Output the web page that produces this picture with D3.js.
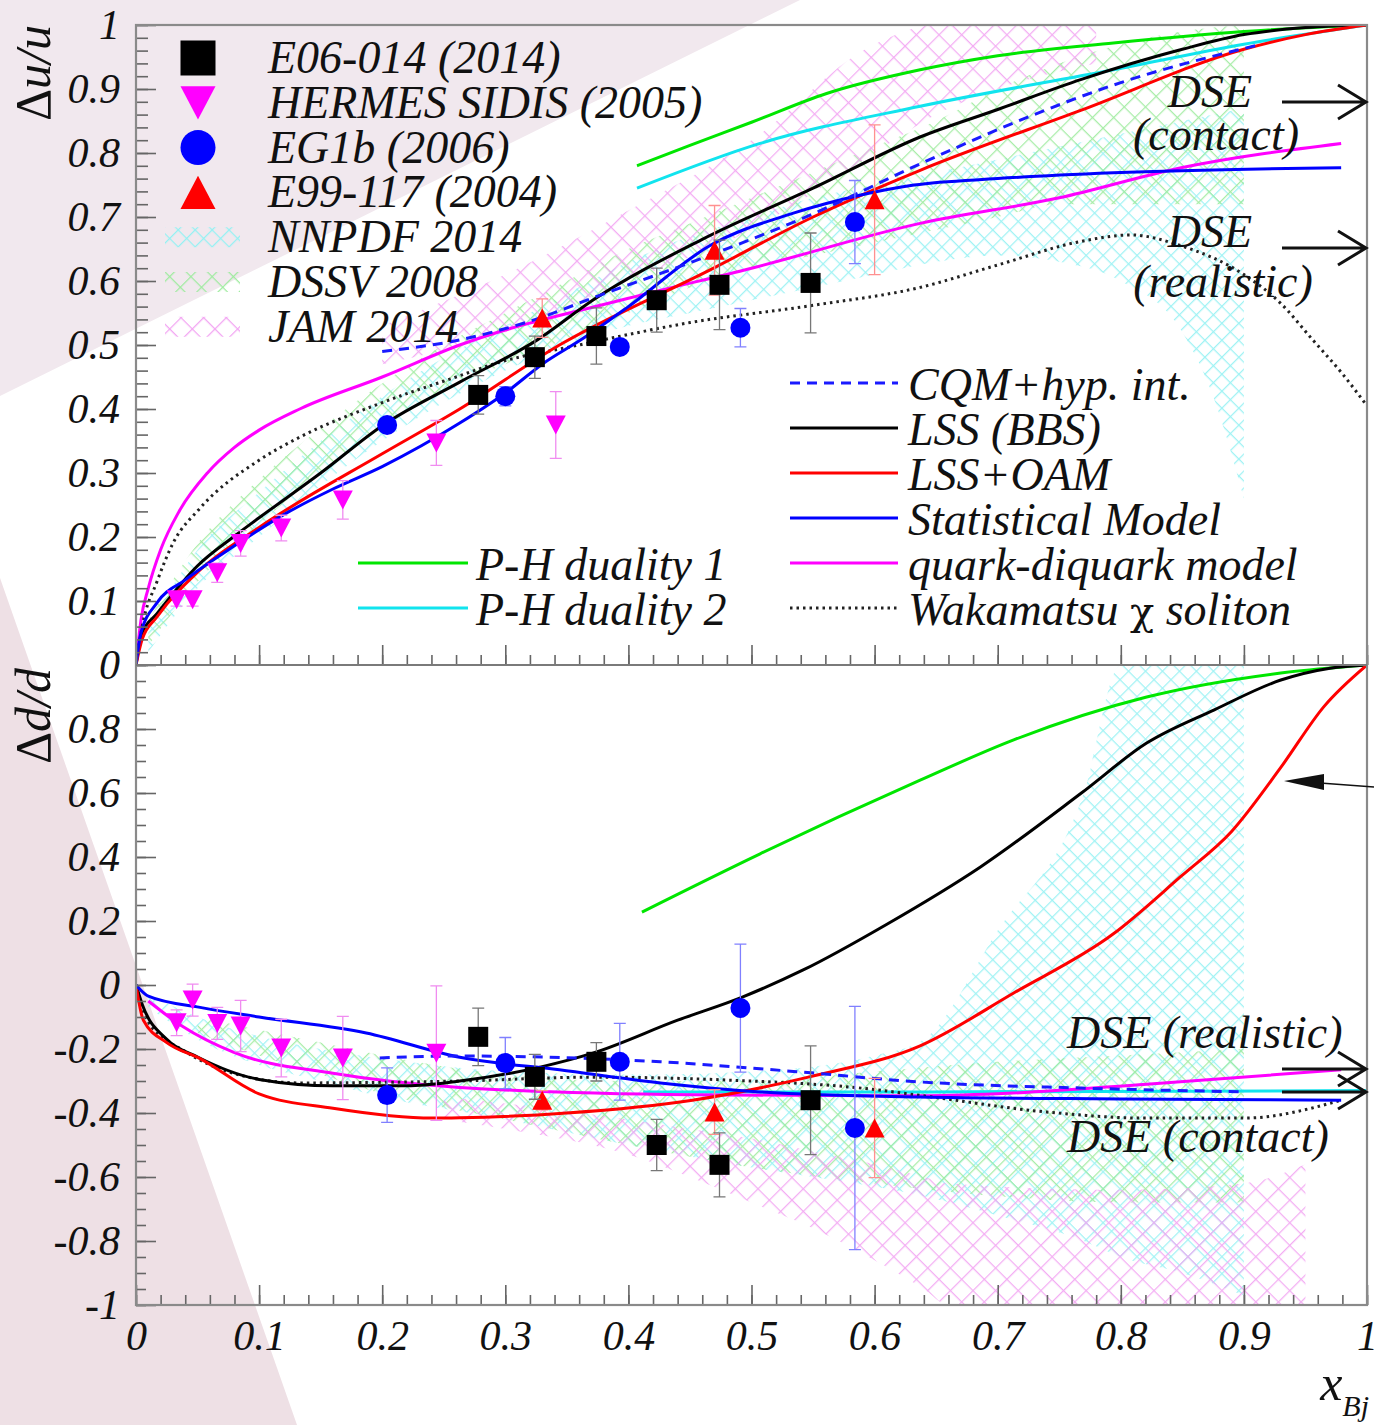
<!DOCTYPE html>
<html>
<head>
<meta charset="utf-8">
<script src="https://cdn.jsdelivr.net/npm/d3@7"></script>
<style>
  body { margin: 0; background: #fff; }
  svg text { font-family: "Liberation Serif", "DejaVu Serif", serif; font-style: italic; fill: #111; }
</style>
</head>
<body>
<svg id="chart" width="1374" height="1425"></svg>
<script>
(function() {
  'use strict';

// ---- tick labels ----
var uTicks = [0, 0.1, 0.2, 0.3, 0.4, 0.5, 0.6, 0.7, 0.8, 0.9, 1];
var dTicks = [-1, -0.8, -0.6, -0.4, -0.2, 0, 0.2, 0.4, 0.6, 0.8];
var xTicks = [0, 0.1, 0.2, 0.3, 0.4, 0.5, 0.6, 0.7, 0.8, 0.9, 1];

// ---- data points (x, value, error) ----
var e06X    = [0.278, 0.324, 0.374, 0.423, 0.474, 0.548];
var e06U    = [0.422, 0.481, 0.514, 0.570, 0.594, 0.597];
var e06UErr = [0.03, 0.033, 0.044, 0.05, 0.07, 0.078];
var e06D    = [-0.162, -0.287, -0.24, -0.5, -0.562, -0.36];
var e06DErr = [0.09, 0.07, 0.06, 0.08, 0.1, 0.17];

var hermUX  = [0.033, 0.046, 0.066, 0.085, 0.118, 0.168, 0.244, 0.341];
var hermU   = [0.102, 0.102, 0.144, 0.19, 0.214, 0.258, 0.347, 0.375];
var hermUErr= [0.01, 0.01, 0.015, 0.02, 0.02, 0.03, 0.035, 0.052];
var hermDX  = [0.033, 0.046, 0.066, 0.085, 0.118, 0.168, 0.244];
var hermD   = [-0.118, -0.047, -0.12, -0.128, -0.197, -0.228, -0.213];
var hermDErr= [0.04, 0.05, 0.05, 0.08, 0.09, 0.13, 0.21];

var eg1X    = [0.204, 0.3, 0.393, 0.491, 0.584];
var eg1U    = [0.375, 0.42, 0.497, 0.527, 0.692];
var eg1UErr = [0.01, 0.015, 0.01, 0.03, 0.065];
var eg1D    = [-0.344, -0.244, -0.24, -0.072, -0.447];
var eg1DErr = [0.085, 0.08, 0.12, 0.2, 0.38];

var e99X    = [0.33, 0.47, 0.6];
var e99U    = [0.542, 0.648, 0.727];
var e99UErr = [0.03, 0.07, 0.117];
var e99D    = [-0.36, -0.397, -0.447];
var e99DErr = [0.03, 0.07, 0.155];

// ---- model curves, Δu/u ----
var uLSS  = [[0,0],[0.005,0.05],[0.017,0.08],[0.05,0.155],[0.079,0.2],[0.1,0.23],[0.15,0.3],[0.2,0.374],[0.263,0.442],[0.326,0.508],[0.371,0.57],[0.46,0.665],[0.55,0.745],[0.637,0.825],[0.7,0.868],[0.768,0.915],[0.85,0.962],[0.9,0.985],[0.95,0.996],[1,1]];
var uOAM  = [[0,0],[0.005,0.04],[0.017,0.075],[0.05,0.145],[0.1,0.215],[0.2,0.33],[0.263,0.4],[0.344,0.5],[0.466,0.617],[0.55,0.7],[0.637,0.773],[0.768,0.867],[0.9,0.962],[0.95,0.985],[1,1]];
var uStat = [[0,0],[0.004,0.05],[0.017,0.097],[0.04,0.133],[0.079,0.185],[0.12,0.235],[0.16,0.275],[0.2,0.31],[0.263,0.378],[0.3,0.425],[0.33,0.47],[0.363,0.51],[0.4,0.56],[0.466,0.655],[0.534,0.706],[0.588,0.734],[0.632,0.75],[0.7,0.76],[0.794,0.769],[0.979,0.777]];
var uCQM  = [[0.2,0.49],[0.263,0.508],[0.318,0.536],[0.38,0.58],[0.452,0.63],[0.55,0.705],[0.637,0.783],[0.713,0.847],[0.8,0.91],[0.91,0.968]];
var uQD   = [[0,0],[0.004,0.07],[0.01,0.12],[0.02,0.18],[0.035,0.24],[0.058,0.3],[0.08,0.34],[0.1,0.367],[0.133,0.4],[0.2,0.45],[0.263,0.5],[0.4,0.573],[0.5,0.62],[0.637,0.69],[0.75,0.73],[0.849,0.777],[0.979,0.815]];
var uWak  = [[0,0],[0.005,0.06],[0.017,0.13],[0.03,0.19],[0.052,0.245],[0.1,0.32],[0.133,0.356],[0.2,0.41],[0.263,0.452],[0.29,0.47],[0.36,0.5],[0.45,0.535],[0.55,0.562],[0.637,0.59],[0.7,0.625],[0.768,0.662],[0.808,0.672],[0.849,0.655],[0.9,0.61],[0.93,0.565],[0.955,0.51],[0.98,0.455],[1.0,0.405]];
var uPH1  = [[0.407,0.78],[0.45,0.812],[0.5,0.848],[0.561,0.893],[0.637,0.93],[0.7,0.952],[0.794,0.972],[0.9,0.99],[1,1]];
var uPH2  = [[0.407,0.745],[0.507,0.815],[0.637,0.873],[0.794,0.93],[0.9,0.97],[1,1]];

// ---- model curves, Δd/d ----
var dLSS  = [[0,0],[0.005,-0.06],[0.025,-0.17],[0.05,-0.225],[0.1,-0.295],[0.16,-0.315],[0.22,-0.315],[0.263,-0.3],[0.33,-0.255],[0.371,-0.213],[0.44,-0.11],[0.493,-0.037],[0.542,0.047],[0.61,0.19],[0.686,0.369],[0.768,0.6],[0.821,0.756],[0.876,0.86],[0.93,0.953],[0.97,0.99],[1,1]];
var dOAM  = [[0,0],[0.006,-0.11],[0.025,-0.18],[0.052,-0.23],[0.1,-0.34],[0.16,-0.385],[0.241,-0.416],[0.263,-0.415],[0.35,-0.4],[0.452,-0.36],[0.547,-0.287],[0.637,-0.19],[0.713,-0.025],[0.794,0.16],[0.849,0.34],[0.89,0.48],[0.93,0.68],[0.965,0.87],[1,1]];
var dStat = [[0,0],[0.01,-0.035],[0.052,-0.07],[0.1,-0.1],[0.187,-0.15],[0.263,-0.226],[0.344,-0.265],[0.426,-0.306],[0.507,-0.334],[0.637,-0.35],[0.8,-0.356],[0.979,-0.36]];
var dCQM  = [[0.198,-0.228],[0.263,-0.222],[0.426,-0.24],[0.534,-0.27],[0.637,-0.303],[0.768,-0.322],[0.9,-0.334]];
var dQD   = [[0.01,-0.05],[0.038,-0.13],[0.079,-0.21],[0.16,-0.276],[0.263,-0.32],[0.452,-0.343],[0.637,-0.346],[0.7,-0.34],[0.821,-0.31],[0.979,-0.265]];
var dWak  = [[0,0],[0.009,-0.11],[0.041,-0.21],[0.079,-0.276],[0.133,-0.306],[0.263,-0.3],[0.371,-0.288],[0.48,-0.297],[0.596,-0.325],[0.637,-0.345],[0.74,-0.397],[0.821,-0.416],[0.9,-0.416],[0.979,-0.36]];
var dPH1  = [[0.411,0.228],[0.507,0.41],[0.637,0.64],[0.713,0.766],[0.821,0.9],[0.93,0.975],[1,1]];
var dPH2  = [[0.412,-0.334],[0.637,-0.334],[1,-0.33]];

// ---- PDF fit bands (x, low, high) ----
var nnUX  = [0.01, 0.05, 0.1, 0.15, 0.2, 0.25, 0.3, 0.35, 0.4, 0.45, 0.5, 0.55, 0.6, 0.65, 0.7, 0.75, 0.8, 0.85, 0.875, 0.9];
var nnULo = [0.02, 0.12, 0.2, 0.28, 0.35, 0.41, 0.46, 0.5, 0.53, 0.55, 0.57, 0.59, 0.61, 0.63, 0.64, 0.63, 0.6, 0.52, 0.42, 0.26];
var nnUHi = [0.06, 0.18, 0.27, 0.35, 0.42, 0.48, 0.53, 0.58, 0.63, 0.67, 0.7, 0.73, 0.75, 0.77, 0.79, 0.81, 0.83, 0.85, 0.86, 0.87];
var dsUX  = [0.01, 0.05, 0.1, 0.15, 0.2, 0.25, 0.3, 0.35, 0.4, 0.45, 0.5, 0.55, 0.6, 0.65, 0.7, 0.75, 0.8, 0.85, 0.9];
var dsULo = [0.03, 0.13, 0.22, 0.3, 0.37, 0.43, 0.47, 0.51, 0.55, 0.59, 0.62, 0.64, 0.66, 0.68, 0.7, 0.72, 0.72, 0.72, 0.72];
var dsUHi = [0.07, 0.19, 0.29, 0.37, 0.44, 0.5, 0.55, 0.6, 0.65, 0.69, 0.73, 0.77, 0.81, 0.85, 0.9, 0.94, 0.97, 0.99, 1.0];
var jamUX = [0.2, 0.3, 0.4, 0.5, 0.6, 0.65, 0.7, 0.78];
var jamULo= [0.47, 0.52, 0.6, 0.68, 0.8, 0.86, 0.9, 0.94];
var jamUHi= [0.53, 0.61, 0.71, 0.82, 0.97, 1.0, 1.0, 1.0];

var nnDX  = [0.01, 0.05, 0.1, 0.15, 0.2, 0.3, 0.4, 0.5, 0.6, 0.64, 0.7, 0.77, 0.8, 0.85, 0.9];
var nnDLo = [-0.07, -0.17, -0.25, -0.3, -0.35, -0.42, -0.5, -0.57, -0.63, -0.66, -0.72, -0.8, -0.85, -0.9, -0.97];
var nnDHi = [-0.03, -0.1, -0.16, -0.2, -0.23, -0.27, -0.28, -0.27, -0.22, -0.17, 0.17, 0.6, 1.0, 1.0, 1.0];
var dsDX  = [0.05, 0.1, 0.15, 0.2, 0.3, 0.4, 0.5, 0.6, 0.7, 0.8, 0.9];
var dsDLo = [-0.15, -0.22, -0.28, -0.34, -0.42, -0.5, -0.57, -0.62, -0.66, -0.68, -0.68];
var dsDHi = [-0.1, -0.14, -0.18, -0.22, -0.28, -0.3, -0.3, -0.27, -0.24, -0.22, -0.2];
var jamDX = [0.25, 0.3, 0.4, 0.45, 0.5, 0.55, 0.6, 0.64, 0.66, 0.8, 0.9, 0.95];
var jamDLo= [-0.42, -0.45, -0.53, -0.6, -0.68, -0.76, -0.86, -0.95, -1.0, -1.0, -1.0, -1.0];
var jamDHi= [-0.35, -0.37, -0.42, -0.45, -0.48, -0.52, -0.56, -0.6, -0.62, -0.64, -0.62, -0.56];

var svg = d3.select("#chart");
var defs = svg.append("defs");

var x  = d3.scaleLinear().domain([0, 1]).range([136, 1367]);
var yU = d3.scaleLinear().domain([0, 1]).range([665, 25]);
var yD = d3.scaleLinear().domain([-1, 1]).range([1305, 665]);

// background decoration
svg.append("path").attr("d", "M0,0L800,0L0,396Z").attr("fill", "#f1e8ee");
svg.append("path").attr("d", "M0,578L297,1425L0,1425Z").attr("fill", "#eee0e5");

// clips
defs.append("clipPath").attr("id", "clipU").append("rect")
  .attr("x", 136).attr("y", 25).attr("width", 1231).attr("height", 640);
defs.append("clipPath").attr("id", "clipD").append("rect")
  .attr("x", 136).attr("y", 665).attr("width", 1231).attr("height", 640);

// cross-hatch patterns
function hatch(id, color, size) {
  var p = defs.append("pattern").attr("id", id)
    .attr("patternUnits", "userSpaceOnUse")
    .attr("width", size).attr("height", size)
    .attr("patternTransform", "rotate(45)");
  p.append("path").attr("d", "M0,0.5H" + size + "M0.5,0V" + size)
    .attr("stroke", color).attr("stroke-width", 1.5).attr("fill", "none");
}
hatch("hNN", "#95f1f3", 12);
hatch("hDS", "#9eeb9e", 15);
hatch("hJAM", "#f2a4f2", 16);

function band(g, xs, lo, hi, y, fill, op) {
  var rows = xs.map(function(d, i) { return {x: d, lo: lo[i], hi: hi[i]}; });
  g.append("path").datum(rows)
    .attr("fill", "url(#" + fill + ")").attr("opacity", op)
    .attr("d", d3.area().x(function(d) { return x(d.x); })
      .y0(function(d) { return y(d.lo); }).y1(function(d) { return y(d.hi); })
      .curve(d3.curveMonotoneX));
}

var gU = svg.append("g").attr("clip-path", "url(#clipU)");
var gD = svg.append("g").attr("clip-path", "url(#clipD)");

band(gU, nnUX, nnULo, nnUHi, yU, "hNN", 0.9);
band(gU, dsUX, dsULo, dsUHi, yU, "hDS", 0.9);
band(gU, jamUX, jamULo, jamUHi, yU, "hJAM", 0.9);
band(gD, nnDX, nnDLo, nnDHi, yD, "hNN", 0.9);
band(gD, dsDX, dsDLo, dsDHi, yD, "hDS", 0.9);
band(gD, jamDX, jamDLo, jamDHi, yD, "hJAM", 0.9);

function curve(g, pts, y, color, dash) {
  g.append("path").datum(pts)
    .attr("fill", "none").attr("stroke", color).attr("stroke-width", 3)
    .attr("stroke-dasharray", dash || null)
    .attr("d", d3.line().x(function(d) { return x(d[0]); })
      .y(function(d) { return y(d[1]); }).curve(d3.curveMonotoneX));
}

var DOT = "2.5,4", DASH = "10,7";
[[uPH1, "#00e600"], [uPH2, "#11e4ee"], [uQD, "#ff00ff"], [uWak, "#222", DOT],
 [uLSS, "#000"], [uOAM, "#ff0000"], [uStat, "#0000ff"], [uCQM, "#1a1aff", DASH]]
  .forEach(function(c) { curve(gU, c[0], yU, c[1], c[2]); });
[[dPH1, "#00e600"], [dPH2, "#11e4ee"], [dQD, "#ff00ff"], [dWak, "#222", DOT],
 [dLSS, "#000"], [dOAM, "#ff0000"], [dStat, "#0000ff"], [dCQM, "#1a1aff", DASH]]
  .forEach(function(c) { curve(gD, c[0], yD, c[1], c[2]); });

// markers
function marker(g, kind, cx, cy, s, color) {
  if (kind === "sq") {
    g.append("rect").attr("x", cx - s / 2).attr("y", cy - s / 2)
      .attr("width", s).attr("height", s).attr("fill", color);
  } else if (kind === "ci") {
    g.append("circle").attr("cx", cx).attr("cy", cy).attr("r", s / 2).attr("fill", color);
  } else {
    var h = s * 0.95, dir = kind === "up" ? 1 : -1;
    g.append("path").attr("fill", color)
      .attr("d", "M" + (cx - s / 2) + "," + (cy + dir * h / 2) + "L" + (cx + s / 2) + "," + (cy + dir * h / 2) +
        "L" + cx + "," + (cy - dir * h / 2) + "Z");
  }
}

function points(g, xs, vs, es, y, kind, color, barColor, s) {
  xs.forEach(function(xv, i) {
    var px = x(xv), top = y(vs[i] + es[i]), bot = y(vs[i] - es[i]);
    g.append("path").attr("stroke", barColor).attr("stroke-width", 1.3).attr("fill", "none")
      .attr("d", "M" + px + "," + top + "V" + bot + "M" + (px - 6) + "," + top + "H" + (px + 6) +
        "M" + (px - 6) + "," + bot + "H" + (px + 6));
  });
  xs.forEach(function(xv, i) { marker(g, kind, x(xv), y(vs[i]), s, color); });
}

points(gU, hermUX, hermU, hermUErr, yU, "down", "#ff00ff", "#f08cf0", 20);
points(gU, eg1X, eg1U, eg1UErr, yU, "ci", "#0000ff", "#8080ff", 20);
points(gU, e99X, e99U, e99UErr, yU, "up", "#ff0000", "#ff9090", 20);
points(gU, e06X, e06U, e06UErr, yU, "sq", "#000", "#777", 20);
points(gD, hermDX, hermD, hermDErr, yD, "down", "#ff00ff", "#f08cf0", 20);
points(gD, eg1X, eg1D, eg1DErr, yD, "ci", "#0000ff", "#8080ff", 20);
points(gD, e99X, e99D, e99DErr, yD, "up", "#ff0000", "#ff9090", 20);
points(gD, e06X, e06D, e06DErr, yD, "sq", "#000", "#777", 20);

// ---- axes ----
var AX = "#666";
function styleAxis(g) {
  g.select(".domain").remove();
  g.selectAll("line").attr("stroke", AX).attr("stroke-width", 1.6);
  g.selectAll("text").attr("font-size", 42).attr("fill", "#111")
    .attr("font-family", "Liberation Serif, serif").attr("font-style", "italic");
}
function fmt(d) { return String(d); }

var uMinor = d3.range(0, 51).map(function(i) { return i * 0.02; });
var dMinor = d3.range(0, 41).map(function(i) { return -1 + i * 0.05; });
var xMinor = d3.range(0, 51).map(function(i) { return i * 0.02; });

svg.append("g").attr("transform", "translate(136,0)")
  .call(d3.axisRight(yU).tickValues(uMinor).tickSize(12).tickFormat("")).call(styleAxis);
svg.append("g").attr("transform", "translate(136,0)")
  .call(d3.axisRight(yU).tickValues(uTicks).tickSize(20).tickFormat("")).call(styleAxis);
svg.append("g").attr("transform", "translate(136,0)")
  .call(d3.axisLeft(yU).tickValues(uTicks).tickSize(0).tickPadding(16).tickFormat(fmt)).call(styleAxis);

svg.append("g").attr("transform", "translate(136,0)")
  .call(d3.axisRight(yD).tickValues(dMinor).tickSize(10).tickFormat("")).call(styleAxis);
svg.append("g").attr("transform", "translate(136,0)")
  .call(d3.axisRight(yD).tickValues(dTicks).tickSize(20).tickFormat("")).call(styleAxis);
svg.append("g").attr("transform", "translate(136,0)")
  .call(d3.axisLeft(yD).tickValues(dTicks).tickSize(0).tickPadding(16).tickFormat(fmt)).call(styleAxis);

[665, 1305].forEach(function(yy) {
  svg.append("g").attr("transform", "translate(0," + yy + ")")
    .call(d3.axisTop(x).tickValues(xMinor).tickSize(10).tickFormat("")).call(styleAxis);
  svg.append("g").attr("transform", "translate(0," + yy + ")")
    .call(d3.axisTop(x).tickValues(xTicks).tickSize(20).tickFormat("")).call(styleAxis);
});
svg.append("g").attr("transform", "translate(0,1305)")
  .call(d3.axisBottom(x).tickValues(xTicks).tickSize(0).tickPadding(15).tickFormat(fmt)).call(styleAxis);

// frame
svg.append("rect").attr("x", 136).attr("y", 25).attr("width", 1231).attr("height", 1280)
  .attr("fill", "none").attr("stroke", "#8a8a8a").attr("stroke-width", 2.2);
svg.append("line").attr("x1", 136).attr("x2", 1367).attr("y1", 665).attr("y2", 665)
  .attr("stroke", "#7a7a7a").attr("stroke-width", 2.2);

// axis titles
function title(tx, ty, main) {
  svg.append("text").attr("transform", "translate(" + tx + "," + ty + ") rotate(-90)")
    .attr("text-anchor", "end").attr("font-size", 50)
    .html('<tspan font-style="normal">Δ</tspan>' + main);
}
title(50, 25, "u/u");
title(50, 668, "d/d");
var xt = svg.append("text").attr("x", 1369).attr("y", 1400).attr("text-anchor", "end").attr("font-size", 50);
xt.append("tspan").text("x");
xt.append("tspan").attr("font-size", 30).attr("dy", 16).text("Bj");

// ---- legends ----
var LF = 46;
var leg1 = [["sq", "#000", "E06-014 (2014)"], ["down", "#ff00ff", "HERMES SIDIS (2005)"],
            ["ci", "#0000ff", "EG1b (2006)"], ["up", "#ff0000", "E99-117 (2004)"],
            ["hNN", null, "NNPDF 2014"], ["hDS", null, "DSSV 2008"], ["hJAM", null, "JAM 2014"]];
leg1.forEach(function(r, i) {
  var cy = 58 + i * 44.8;
  if (r[1]) marker(svg, r[0], 198, cy, 35, r[1]);
  else svg.append("rect").attr("x", 165).attr("y", cy - 10).attr("width", 75).attr("height", 20)
    .attr("fill", "url(#" + r[0] + ")");
  svg.append("text").attr("x", 268).attr("y", cy + 15).attr("font-size", LF).text(r[2]);
});

var leg2 = [["#1a1aff", DASH, "CQM+hyp. int."], ["#000", null, "LSS (BBS)"], ["#ff0000", null, "LSS+OAM"],
            ["#0000ff", null, "Statistical Model"], ["#ff00ff", null, "quark-diquark model"],
            ["#222", DOT, "Wakamatsu "]];
leg2.forEach(function(r, i) {
  var cy = 383 + i * 45;
  svg.append("line").attr("x1", 790).attr("x2", 898).attr("y1", cy).attr("y2", cy)
    .attr("stroke", r[0]).attr("stroke-width", 3).attr("stroke-dasharray", r[1]);
  var t = svg.append("text").attr("x", 908).attr("y", cy + 17).attr("font-size", LF).text(r[2]);
  if (i === 5) {
    t.append("tspan").attr("font-style", "normal").attr("font-family", "DejaVu Serif, serif")
      .attr("font-size", 40).text("χ");
    t.append("tspan").text(" soliton");
  }
});

var leg3 = [["#00e600", "P-H duality 1"], ["#11e4ee", "P-H duality 2"]];
leg3.forEach(function(r, i) {
  var cy = 563 + i * 45;
  svg.append("line").attr("x1", 358).attr("x2", 468).attr("y1", cy).attr("y2", cy)
    .attr("stroke", r[0]).attr("stroke-width", 3);
  svg.append("text").attr("x", 476).attr("y", cy + 17).attr("font-size", LF).text(r[1]);
});

// ---- DSE annotations ----
function openArrow(x1, x2, yy) {
  svg.append("path").attr("fill", "none").attr("stroke", "#111").attr("stroke-width", 3)
    .attr("d", "M" + x1 + "," + yy + "H" + x2 + "M" + (x2 - 28) + "," + (yy - 17) + "L" + x2 + "," + yy +
      "L" + (x2 - 28) + "," + (yy + 17));
}
function label(tx, ty, str, anchor) {
  svg.append("text").attr("x", tx).attr("y", ty).attr("font-size", LF)
    .attr("text-anchor", anchor || "start").text(str);
}
label(1210, 107, "DSE", "middle");
label(1216, 150, "(contact)", "middle");
openArrow(1282, 1366, 102);
label(1210, 247, "DSE", "middle");
label(1223, 297, "(realistic)", "middle");
openArrow(1282, 1366, 248);

label(1067, 1048, "DSE (realistic)");
openArrow(1282, 1366, 1069);
openArrow(1282, 1366, 1092);
label(1067, 1152, "DSE (contact)");

// filled arrow pointing to the LSS+OAM curve
svg.append("line").attr("x1", 1320).attr("y1", 783).attr("x2", 1374).attr("y2", 787)
  .attr("stroke", "#111").attr("stroke-width", 1.5);
svg.append("path").attr("fill", "#111").attr("d", "M1284,781L1324,774L1324,790Z");

})();
</script>
</body>
</html>
